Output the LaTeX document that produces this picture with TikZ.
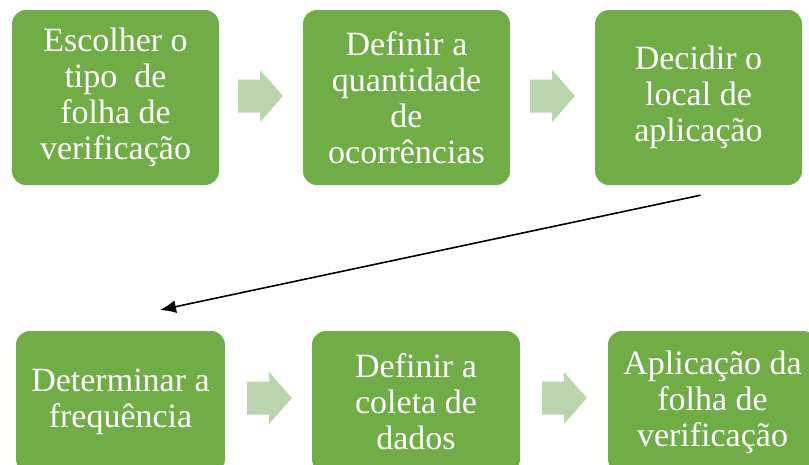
\documentclass[tikz,border=0pt]{standalone}
\usepackage{fontspec}
\setmainfont{Liberation Serif}
\usetikzlibrary{arrows.meta}
\definecolor{boxgreen}{RGB}{112,173,71}
\definecolor{arrowgreen}{RGB}{187,214,175}
\tikzset{
  stepbox/.style={draw=none,fill=boxgreen,rounded corners=14pt,minimum width=207pt,
    minimum height=175pt,inner sep=0pt,align=center,text=white,
    font=\rmfamily\fontsize{34pt}{36pt}\selectfont},
}
\begin{document}
\begin{tikzpicture}[x=1pt,y=-1pt]
\useasboundingbox (0,0) rectangle (809,464);
\clip (0,0) rectangle (809,464);
% top row
\node[stepbox] (esc) at (115.5,97.5) {Escolher o\\tipo\ \ de\\folha de\\verificação};
\node[stepbox] (def) at (406.5,97.5) {Definir a\\quantidade\\de\\ocorrências};
\node[stepbox] (dec) at (698.5,97.5) {Decidir o\\local de\\aplicação};
% bottom row
\node[stepbox,minimum width=209pt,minimum height=142pt] (det) at (120.5,402) {Determinar a\\frequência};
\node[stepbox,minimum width=208pt,minimum height=142pt] (col) at (416,402) {Definir a\\coleta de\\dados};
\node[stepbox,minimum width=209pt,minimum height=142pt] (apl) at (712.5,402) {Aplicação da\\folha de\\verificação};
% block arrows
\foreach \x/\y in {238/96,530/96,247/398,542/398}{
  \fill[arrowgreen] (\x,\y-16.5) -- (\x+22,\y-16.5) -- (\x+22,\y-26) -- (\x+45,\y)
    -- (\x+22,\y+26) -- (\x+22,\y+16.5) -- (\x,\y+16.5) -- cycle;
}
% connector between rows
\coordinate (from) at ([yshift=-10pt,xshift=2pt]dec.south);
\coordinate (to) at (160,310);
\draw[line width=1.6pt,-{Latex[length=16pt,width=13pt]}] (from) -- (to);
\end{tikzpicture}
\end{document}
